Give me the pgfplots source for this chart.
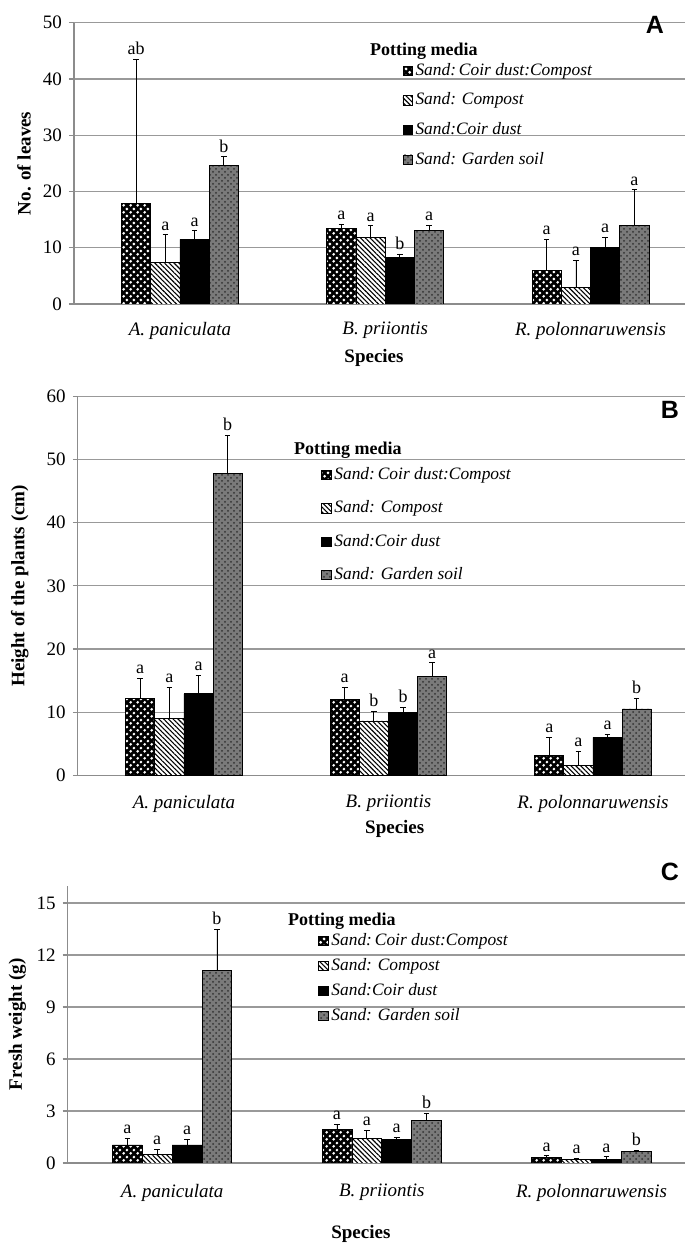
\documentclass[border=0pt]{standalone}
\usepackage{pgfplots}
\pgfplotsset{compat=1.18}
\usepackage{pgfplotstable}
\usepackage{fontspec}
\setmainfont{Liberation Serif}
\newfontfamily\panelfont{Liberation Sans}
\usetikzlibrary{patterns,patterns.meta}

\pgfdeclarepatternformonly{bigdots}{\pgfqpoint{0pt}{0pt}}{\pgfqpoint{3.4pt}{3.4pt}}{\pgfqpoint{3.4pt}{3.4pt}}{%
  \pgfpathcircle{\pgfqpoint{0.85pt}{0.85pt}}{0.75pt}%
  \pgfpathcircle{\pgfqpoint{2.55pt}{2.55pt}}{0.75pt}%
  \pgfusepath{fill}}

% columns: x, mean / error / letter for the four potting media
\pgfplotstableread{
x m1 e1 l1 m2 e2 l2 m3 e3 l3 m4 e4 l4
1 17.8 25.7 ab 7.4 4.9 a 11.5 1.5 a 24.6 1.6 b
2 13.4 0.8 a 11.85 2.05 a 8.3 0.6 b 13.0 1.0 a
3 5.9 5.6 a 3.0 4.8 a 10.0 1.85 a 14.0 6.3 a
}\tabA
\pgfplotstableread{
x m1 e1 l1 m2 e2 l2 m3 e3 l3 m4 e4 l4
1 12.2 3.2 a 9.0 4.9 a 12.9 2.9 a 47.8 6.0 b
2 12.0 1.9 a 8.6 1.5 b 9.9 0.9 b 15.6 2.2 a
3 3.2 2.8 a 1.6 2.25 a 6.0 0.5 a 10.5 1.7 b
}\tabB
\pgfplotstableread{
x m1 e1 l1 m2 e2 l2 m3 e3 l3 m4 e4 l4
1 1.04 0.38 a 0.50 0.29 a 1.04 0.33 a 11.1 2.4 b
2 1.92 0.31 a 1.42 0.48 a 1.38 0.12 a 2.44 0.43 b
3 0.31 0.11 a 0.23 0.03 a 0.19 0.18 a 0.65 0.08 b
}\tabC

\pgfplotsset{
  sA/.style={draw=black, line width=0.4pt, fill=black, postaction={pattern=bigdots, pattern color=white}},
  sB/.style={draw=black, line width=0.4pt, fill=white, postaction={pattern={Lines[angle=-45,distance=1.7pt,line width=0.55pt]}, pattern color=black}},
  sC/.style={draw=black, line width=0.4pt, fill=black},
  sD/.style={draw=black, line width=0.4pt, fill=black!52, postaction={pattern=crosshatch dots, pattern color=black!80}},
  errs/.style={error bars/y dir=plus, error bars/y explicit,
    error bars/error bar style={black,line width=0.4pt},
    error bars/error mark options={black, line width=0.4pt, mark size=1.4pt, rotate=90}},
  lett/.style={draw=none, fill=none, nodes near coords, point meta=explicit symbolic, forget plot,
    every node near coord/.append style={anchor=south, inner sep=0.5pt, yshift=1.5pt, font=\fontsize{9}{10}\selectfont, text=black}},
  legimg/.style={legend image code/.code={\draw[##1] (0pt,-2.0pt) rectangle (4.6pt,2.6pt);}},
  panel/.style={
    scale only axis, axis lines*=left, ybar, bar width=0.1425,
    axis line style={black!45, line width=0.6pt},
    ymin=0, xtick={1,2,3},
    xticklabels={\textit{A. paniculata},\textit{B. priiontis},\textit{R. polonnaruwensis}},
    x tick style={draw=none},
    y tick style={black!45, line width=0.6pt},
    tick align=outside, major tick length=2.5pt,
    ymajorgrids, major grid style={black!40, line width=0.6pt},
    ticklabel style={font=\fontsize{9.5}{10}\selectfont},
    /pgf/number format/assume math mode=true,
    label style={font=\fontsize{9.5}{11}\selectfont\bfseries},
    legend style={draw=none, fill=none, inner sep=0pt, column sep=1.5pt,
      font=\fontsize{8.7}{10}\selectfont\itshape,
      nodes={inner sep=0pt, text height=6pt, text depth=2pt}},
    legend cell align=left,
  },
}

\begin{document}
\begin{tikzpicture}
\useasboundingbox (0,0) rectangle (342.5pt,621.5pt);

% ---------------- Panel A
\begin{axis}[panel, at={(37pt,469.5pt)}, anchor=south west,
  width=305.5pt, height=140.65pt, xmin=0.484, xmax=3.46, ymax=50, ytick={0,10,...,50},
  xticklabel style={yshift=-3pt},
  xlabel={Species}, xlabel style={at={(axis description cs:0.491,-0.192)}, anchor=center},
  ylabel={No. of leaves}, ylabel style={at={(axis description cs:-0.0818,0.5)}, anchor=center},
  legend style={at={(rel axis cs:0.537,0.857)}, anchor=north west, row sep=6.8pt}]
\addplot[bar shift=-0.21375, sA, legimg, errs] table[x=x, y=m1, y error=e1] {\tabA};
\addlegendentry{Sand:\,Coir dust:Compost}
\addplot[bar shift=-0.07125, sB, legimg, errs] table[x=x, y=m2, y error=e2] {\tabA};
\addlegendentry{Sand: Compost}
\addplot[bar shift=0.07125, sC, legimg, errs] table[x=x, y=m3, y error=e3] {\tabA};
\addlegendentry{Sand:Coir dust}
\addplot[bar shift=0.21375, sD, legimg, errs] table[x=x, y=m4, y error=e4] {\tabA};
\addlegendentry{Sand: Garden soil}
\addplot[bar shift=-0.21375, lett] table[x=x, y expr=\thisrow{m1}+\thisrow{e1}, meta=l1] {\tabA};
\addplot[bar shift=-0.07125, lett] table[x=x, y expr=\thisrow{m2}+\thisrow{e2}, meta=l2] {\tabA};
\addplot[bar shift=0.07125, lett] table[x=x, y expr=\thisrow{m3}+\thisrow{e3}, meta=l3] {\tabA};
\addplot[bar shift=0.21375, lett] table[x=x, y expr=\thisrow{m4}+\thisrow{e4}, meta=l4] {\tabA};
\node[anchor=west, font=\fontsize{9}{10}\selectfont\bfseries] at (rel axis cs:0.473,0.900) {Potting media};
\end{axis}

% ---------------- Panel B
\begin{axis}[panel, at={(38.9pt,233.85pt)}, anchor=south west,
  width=303.6pt, height=189.5pt, xmin=0.481, xmax=3.45, ymax=60, ytick={0,10,...,60},
  xticklabel style={yshift=-4pt},
  xlabel={Species}, xlabel style={at={(axis description cs:0.522,-0.1425)}, anchor=center},
  ylabel={Height of the plants (cm)}, ylabel style={at={(axis description cs:-0.0957,0.5)}, anchor=center},
  legend style={at={(rel axis cs:0.4005,0.813)}, anchor=north west, row sep=8.7pt}]
\addplot[bar shift=-0.21375, sA, legimg, errs] table[x=x, y=m1, y error=e1] {\tabB};
\addlegendentry{Sand:\,Coir dust:Compost}
\addplot[bar shift=-0.07125, sB, legimg, errs] table[x=x, y=m2, y error=e2] {\tabB};
\addlegendentry{Sand: Compost}
\addplot[bar shift=0.07125, sC, legimg, errs] table[x=x, y=m3, y error=e3] {\tabB};
\addlegendentry{Sand:Coir dust}
\addplot[bar shift=0.21375, sD, legimg, errs] table[x=x, y=m4, y error=e4] {\tabB};
\addlegendentry{Sand: Garden soil}
\addplot[bar shift=-0.21375, lett] table[x=x, y expr=\thisrow{m1}+\thisrow{e1}, meta=l1] {\tabB};
\addplot[bar shift=-0.07125, lett] table[x=x, y expr=\thisrow{m2}+\thisrow{e2}, meta=l2] {\tabB};
\addplot[bar shift=0.07125, lett] table[x=x, y expr=\thisrow{m3}+\thisrow{e3}, meta=l3] {\tabB};
\addplot[bar shift=0.21375, lett] table[x=x, y expr=\thisrow{m4}+\thisrow{e4}, meta=l4] {\tabB};
\node[anchor=west, font=\fontsize{9}{10}\selectfont\bfseries] at (rel axis cs:0.3445,0.858) {Potting media};
\end{axis}

% ---------------- Panel C
\begin{axis}[panel, at={(33.85pt,40pt)}, anchor=south west,
  width=308.65pt, height=138.65pt, xmin=0.502, xmax=3.446, ymax=16, ytick={0,3,...,15},
  xticklabel style={yshift=-4.5pt},
  xlabel={Species}, xlabel style={at={(axis description cs:0.475,-0.256)}, anchor=center},
  ylabel={Fresh weight (g)}, ylabel style={at={(axis description cs:-0.0815,0.5)}, anchor=center},
  legend style={at={(rel axis cs:0.4055,0.829)}, anchor=north west, row sep=4.5pt}]
\addplot[bar shift=-0.21375, sA, legimg, errs] table[x=x, y=m1, y error=e1] {\tabC};
\addlegendentry{Sand:\,Coir dust:Compost}
\addplot[bar shift=-0.07125, sB, legimg, errs] table[x=x, y=m2, y error=e2] {\tabC};
\addlegendentry{Sand: Compost}
\addplot[bar shift=0.07125, sC, legimg, errs] table[x=x, y=m3, y error=e3] {\tabC};
\addlegendentry{Sand:Coir dust}
\addplot[bar shift=0.21375, sD, legimg, errs] table[x=x, y=m4, y error=e4] {\tabC};
\addlegendentry{Sand: Garden soil}
\addplot[bar shift=-0.21375, lett] table[x=x, y expr=\thisrow{m1}+\thisrow{e1}, meta=l1] {\tabC};
\addplot[bar shift=-0.07125, lett] table[x=x, y expr=\thisrow{m2}+\thisrow{e2}, meta=l2] {\tabC};
\addplot[bar shift=0.07125, lett] table[x=x, y expr=\thisrow{m3}+\thisrow{e3}, meta=l3] {\tabC};
\addplot[bar shift=0.21375, lett] table[x=x, y expr=\thisrow{m4}+\thisrow{e4}, meta=l4] {\tabC};
\node[anchor=west, font=\fontsize{9}{10}\selectfont\bfseries] at (rel axis cs:0.3455,0.873) {Potting media};
\end{axis}

\node[font=\panelfont\bfseries\fontsize{12.5}{13}\selectfont] at (327.5pt,609pt) {A};
\node[font=\panelfont\bfseries\fontsize{12.5}{13}\selectfont] at (335pt,416.5pt) {B};
\node[font=\panelfont\bfseries\fontsize{12.5}{13}\selectfont] at (335pt,185.5pt) {C};
\end{tikzpicture}
\end{document}
